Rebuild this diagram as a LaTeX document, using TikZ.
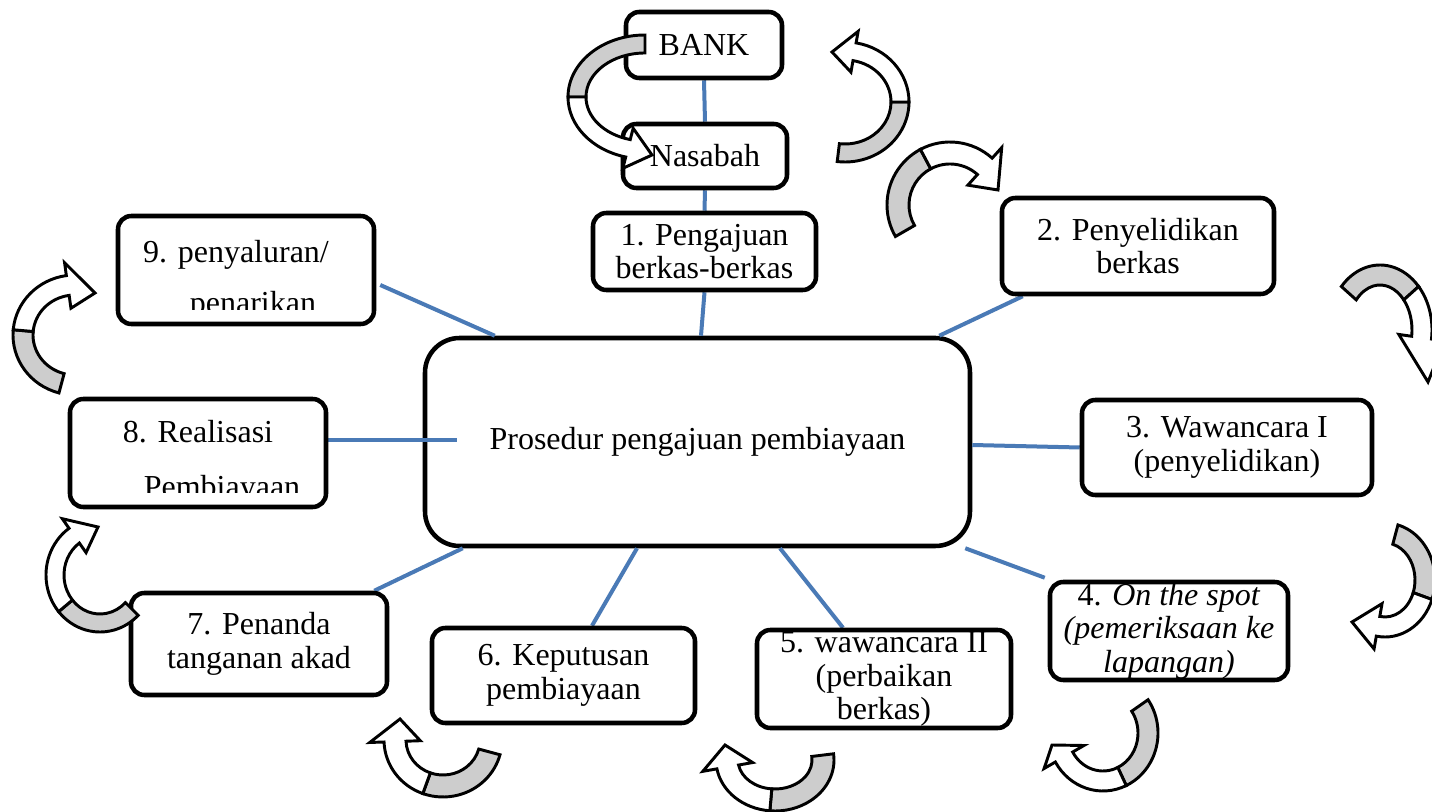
\documentclass[tikz,border=0pt]{standalone}
\usepackage{fontspec}
\setmainfont{Liberation Serif}
\usetikzlibrary{calc}

\definecolor{linkblue}{RGB}{74,122,182}
\definecolor{bandgray}{RGB}{205,205,205}

\pgfdeclarelayer{base}
\pgfdeclarelayer{links}
\pgfsetlayers{base,links,main}

\tikzset{
  stepbox/.style={draw=black, line width=3.4pt, rounded corners=10pt, fill=white,
    align=center, inner sep=0pt, font=\fontsize{24}{25}\selectfont},
  hubbox/.style={stepbox, rounded corners=26pt},
  steptext/.style={inner sep=0pt, font=\fontsize{24}{25}\selectfont},
  link/.style={draw=linkblue, line width=3pt},
  bandline/.style={draw=black, line width=2.2pt, line join=miter},
}

% Curved ribbon arrow along an ellipse:
% cx,cy,rx,ry, tail angle, twist angle, head angle, half width, (tip point);
\def\bentarrow#1,#2,#3,#4,#5,#6,#7,#8,#9;{%
  \filldraw[bandline, fill=bandgray]
    ({#1+(#3+#8)*cos(#5)},{#2+(#4+#8)*sin(#5)})
    arc[start angle=#5, end angle=#6, x radius={#3+#8}, y radius={#4+#8}]
    -- ({#1+(#3-#8)*cos(#6)},{#2+(#4-#8)*sin(#6)})
    arc[start angle=#6, end angle=#5, x radius={#3-#8}, y radius={#4-#8}]
    -- cycle;
  \filldraw[bandline, fill=white]
    ({#1+(#3+#8)*cos(#6)},{#2+(#4+#8)*sin(#6)})
    arc[start angle=#6, end angle=#7, x radius={#3+#8}, y radius={#4+#8}]
    -- ({#1+(#3+2.3*#8)*cos(#7)},{#2+(#4+2.3*#8)*sin(#7)})
    -- #9
    -- ({#1+(#3-2.3*#8)*cos(#7)},{#2+(#4-2.3*#8)*sin(#7)})
    -- ({#1+(#3-#8)*cos(#7)},{#2+(#4-#8)*sin(#7)})
    arc[start angle=#7, end angle=#6, x radius={#3-#8}, y radius={#4-#8}]
    -- cycle;
}

\begin{document}
\begin{tikzpicture}[x=0.75pt, y=-0.75pt]
\useasboundingbox (0,0) rectangle (1432,812);

\begin{pgfonlayer}{base}
  \fill[white] (0,0) rectangle (1432,812);
  % central box
  \node[hubbox, minimum width=408.75pt, minimum height=156pt] (hub) at (697.5,442)
    {Prosedur pengajuan pembiayaan};
\end{pgfonlayer}
\coordinate (hubin) at (457,440);

% step boxes
\path
  (704,45)     node[stepbox, minimum width=117pt,   minimum height=49.5pt]  (bank) {BANK}
  (705,156)    node[stepbox, minimum width=123pt,   minimum height=48pt]    (nas)  {Nasabah}
  (704.5,251.5) node[stepbox, minimum width=167.25pt, minimum height=57.75pt] (b1) {1. Pengajuan\\berkas-berkas}
  (1138,246)   node[stepbox, minimum width=204pt,   minimum height=72pt]    (b2) {2. Penyelidikan\\berkas}
  (1227,447.5) node[stepbox, minimum width=217.5pt, minimum height=71.25pt] (b3) {3. Wawancara I\\(penyelidikan)}
  (1169,631)   node[stepbox, minimum width=178.5pt, minimum height=73.5pt]  (b4) {4. \textit{On the spot}\\\textit{(pemeriksaan ke}\\\textit{lapangan)}}
  (884,679)    node[stepbox, minimum width=190.5pt, minimum height=73.5pt]  (b5) {5. wawancara II\\(perbaikan\\berkas)}
  (563.5,675.5) node[stepbox, minimum width=197.25pt, minimum height=71.25pt] (b6) {6. Keputusan\\pembiayaan}
  (259,644)    node[stepbox, minimum width=192pt,   minimum height=76.5pt]  (b7) {7. Penanda\\tanganan akad}
  (198,453)    node[stepbox, minimum width=192pt,   minimum height=81pt]    (b8) {}
  (246,270)    node[stepbox, minimum width=192pt,   minimum height=81pt]    (b9) {};

% connectors, between the central box and the step boxes
\begin{pgfonlayer}{links}
  \draw[link] (bank.south) -- (nas.north);
  \draw[link] (nas.south) -- (b1.north);
  \draw[link] (b1.south) -- ($(hub.north)+(3.5,0)$);
  \draw[link] ($(b2.south west)+(23,0)$) -- ($(hub.north east)+(-33,0)$);
  \draw[link] (b3.west) -- ($(hub.east)+(0,3)$);
  \draw[link] ($(b4.north west)+(-3,-2)$) -- ($(hub.south east)+(-7,0)$);
  \draw[link] ($(b5.north)+(-41,0)$) -- ($(hub.south)+(82.5,0)$);
  \draw[link] ($(b6.north)+(28.5,0)$) -- ($(hub.south)+(-60.5,0)$);
  \draw[link] ($(b7.north east)+(-15,0)$) -- ($(hub.south west)+(40,0)$);
  \draw[link] ($(b8.east)+(0,-13)$) -- (hubin);
  \draw[link] ($(b9.east)+(4,15)$) -- ($(hub.north west)+(72,0)$);
\end{pgfonlayer}

% labels cut off at the lower edge of their text frames
\begin{scope}
  \clip (100,220) rectangle (372,310);
  \node[steptext, anchor=base] (b9a) at (236,263) {9. penyaluran/};
  \node[steptext, anchor=base] (b9b) at (253,314) {penarikan};
\end{scope}
\begin{scope}
  \clip (72,400) rectangle (324,493);
  \node[steptext, anchor=base] (b8a) at (198,443) {8. Realisasi};
  \node[steptext, anchor=base] (b8b) at (222,498) {Pembiayaan};
\end{scope}

% curved ribbon arrows
\bentarrow 645,97,68,53,270,180,104.5,9,(652,155);
\bentarrow 845,102,55,51,97,0,-80,9,(832,52);
\bentarrow 950,205,52,52,150,242,312,11,(998,190);
\bentarrow 1380,330,42,55,222,318,368,10,(1428,382);
\bentarrow 1385,580,40,47,-75,20,100,10,(1352,622);
\bentarrow 1103,733,45,48,-35,65,150,10,(1052,745);
\bentarrow 775,760,48,40,-7,95,170,11,(725,745);
\bentarrow 443,740,48,46,15,110,178,11,(400,719);
\bentarrow 100,575,45,48,45,140,235,9,(98,527);
\bentarrow 75,335,52,50,105,185,262,10,(95,293);
\end{tikzpicture}
\end{document}
